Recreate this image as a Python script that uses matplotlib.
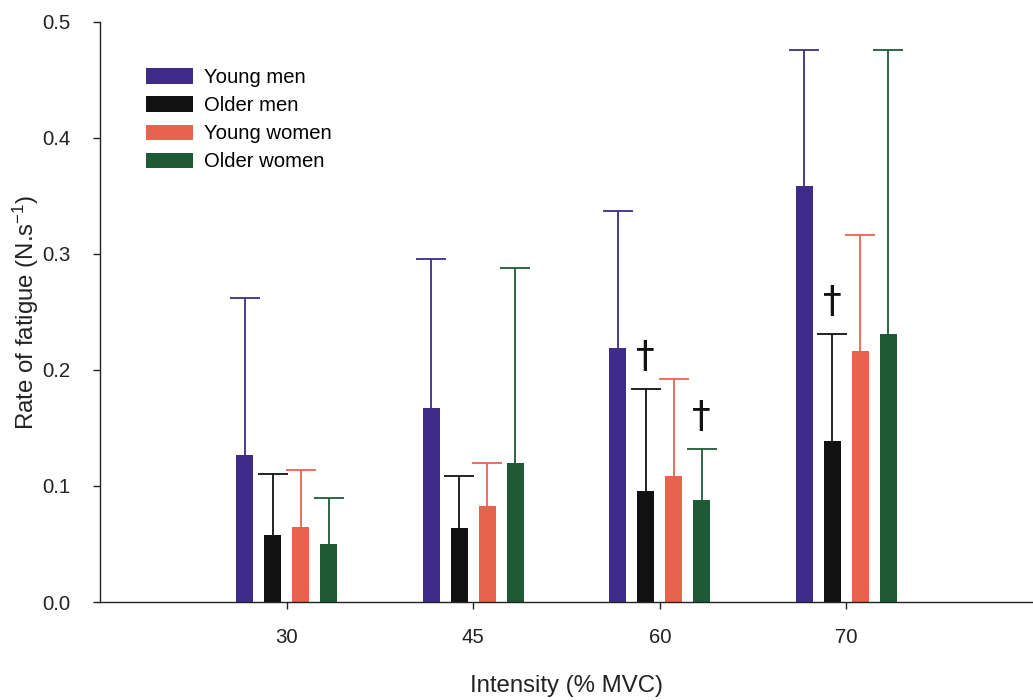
import numpy as np
import matplotlib.pyplot as plt

plt.rcParams['font.family'] = ['Liberation Sans', 'DejaVu Sans']
plt.rcParams['mathtext.fontset'] = 'custom'
plt.rcParams['mathtext.rm'] = 'Liberation Sans'
plt.rcParams['mathtext.it'] = 'Liberation Sans:italic'

# Rate of fatigue by contraction intensity, mean and upper SD
intensity = ['30', '45', '60', '70']
groups = ['Young men', 'Older men', 'Young women', 'Older women']
colors = ['#3f2b88', '#111111', '#e8634e', '#1f5a36']

young_men = [0.127, 0.167, 0.219, 0.359]
older_men = [0.058, 0.064, 0.096, 0.139]
young_women = [0.065, 0.083, 0.109, 0.216]
older_women = [0.050, 0.120, 0.088, 0.231]

young_men_sd = [0.135, 0.129, 0.118, 0.117]
older_men_sd = [0.052, 0.045, 0.088, 0.092]
young_women_sd = [0.049, 0.037, 0.083, 0.100]
older_women_sd = [0.040, 0.168, 0.044, 0.245]

# (group index, intensity index) of the bars flagged with a dagger
dagger_marks = [(1, 2), (3, 2), (1, 3)]

means = [young_men, older_men, young_women, older_women]
sds = [young_men_sd, older_men_sd, young_women_sd, older_women_sd]

fig = plt.figure(figsize=(10.33, 7), dpi=100)
ax = fig.add_axes([0.0968, 0.14, 0.9032, 0.8286])

x = np.arange(len(intensity))
width = 0.093
step = 0.15
offsets = (np.arange(len(groups)) - 1.5) * step

for i, (name, c) in enumerate(zip(groups, colors)):
    xs = x + offsets[i]
    ax.bar(xs, means[i], width=width, color=c, label=name, zorder=2)
    eb = ax.errorbar(xs, means[i], yerr=[np.zeros(len(x)), sds[i]],
                     fmt='none', ecolor=c, elinewidth=1.3,
                     capsize=11, capthick=1.3, zorder=1)
    eb[1][0].set_visible(False)  # no lower caps

for g, k in dagger_marks:
    top = means[g][k] + sds[g][k]
    ax.text(x[k] + offsets[g], top + 0.012, '\u2020', ha='center',
            va='bottom', fontsize=27, family='DejaVu Sans', color='#111111')

ax.set_xlim(-1.0, 4.0)
ax.set_ylim(0, 0.5)
ax.set_xticks(x)
ax.set_xticklabels(intensity)
ax.set_yticks(np.arange(0, 0.51, 0.1))
ax.set_yticklabels(['%.1f' % v for v in np.arange(0, 0.51, 0.1)])

for s in ['top', 'right']:
    ax.spines[s].set_visible(False)
for s in ['left', 'bottom']:
    ax.spines[s].set_linewidth(1.0)
    ax.spines[s].set_color('#222222')

ax.tick_params(axis='both', direction='out', length=5, width=1,
               labelsize=14.7, colors='#222222')
ax.tick_params(axis='y', pad=16)
ax.tick_params(axis='x', pad=14)

ax.set_xlabel('Intensity (% MVC)', fontsize=17.3, labelpad=20, color='#222222')
ax.set_ylabel('Rate of fatigue (N.s$^{\\mathregular{-1}}$)', fontsize=17.3,
              labelpad=1, color='#222222')

ax.legend(loc='upper left', bbox_to_anchor=(0.03, 0.952), frameon=False,
          fontsize=14.6, handlelength=2.3, handleheight=0.8,
          labelspacing=0.45, handletextpad=0.55)

fig.savefig('out.png', dpi=100)
